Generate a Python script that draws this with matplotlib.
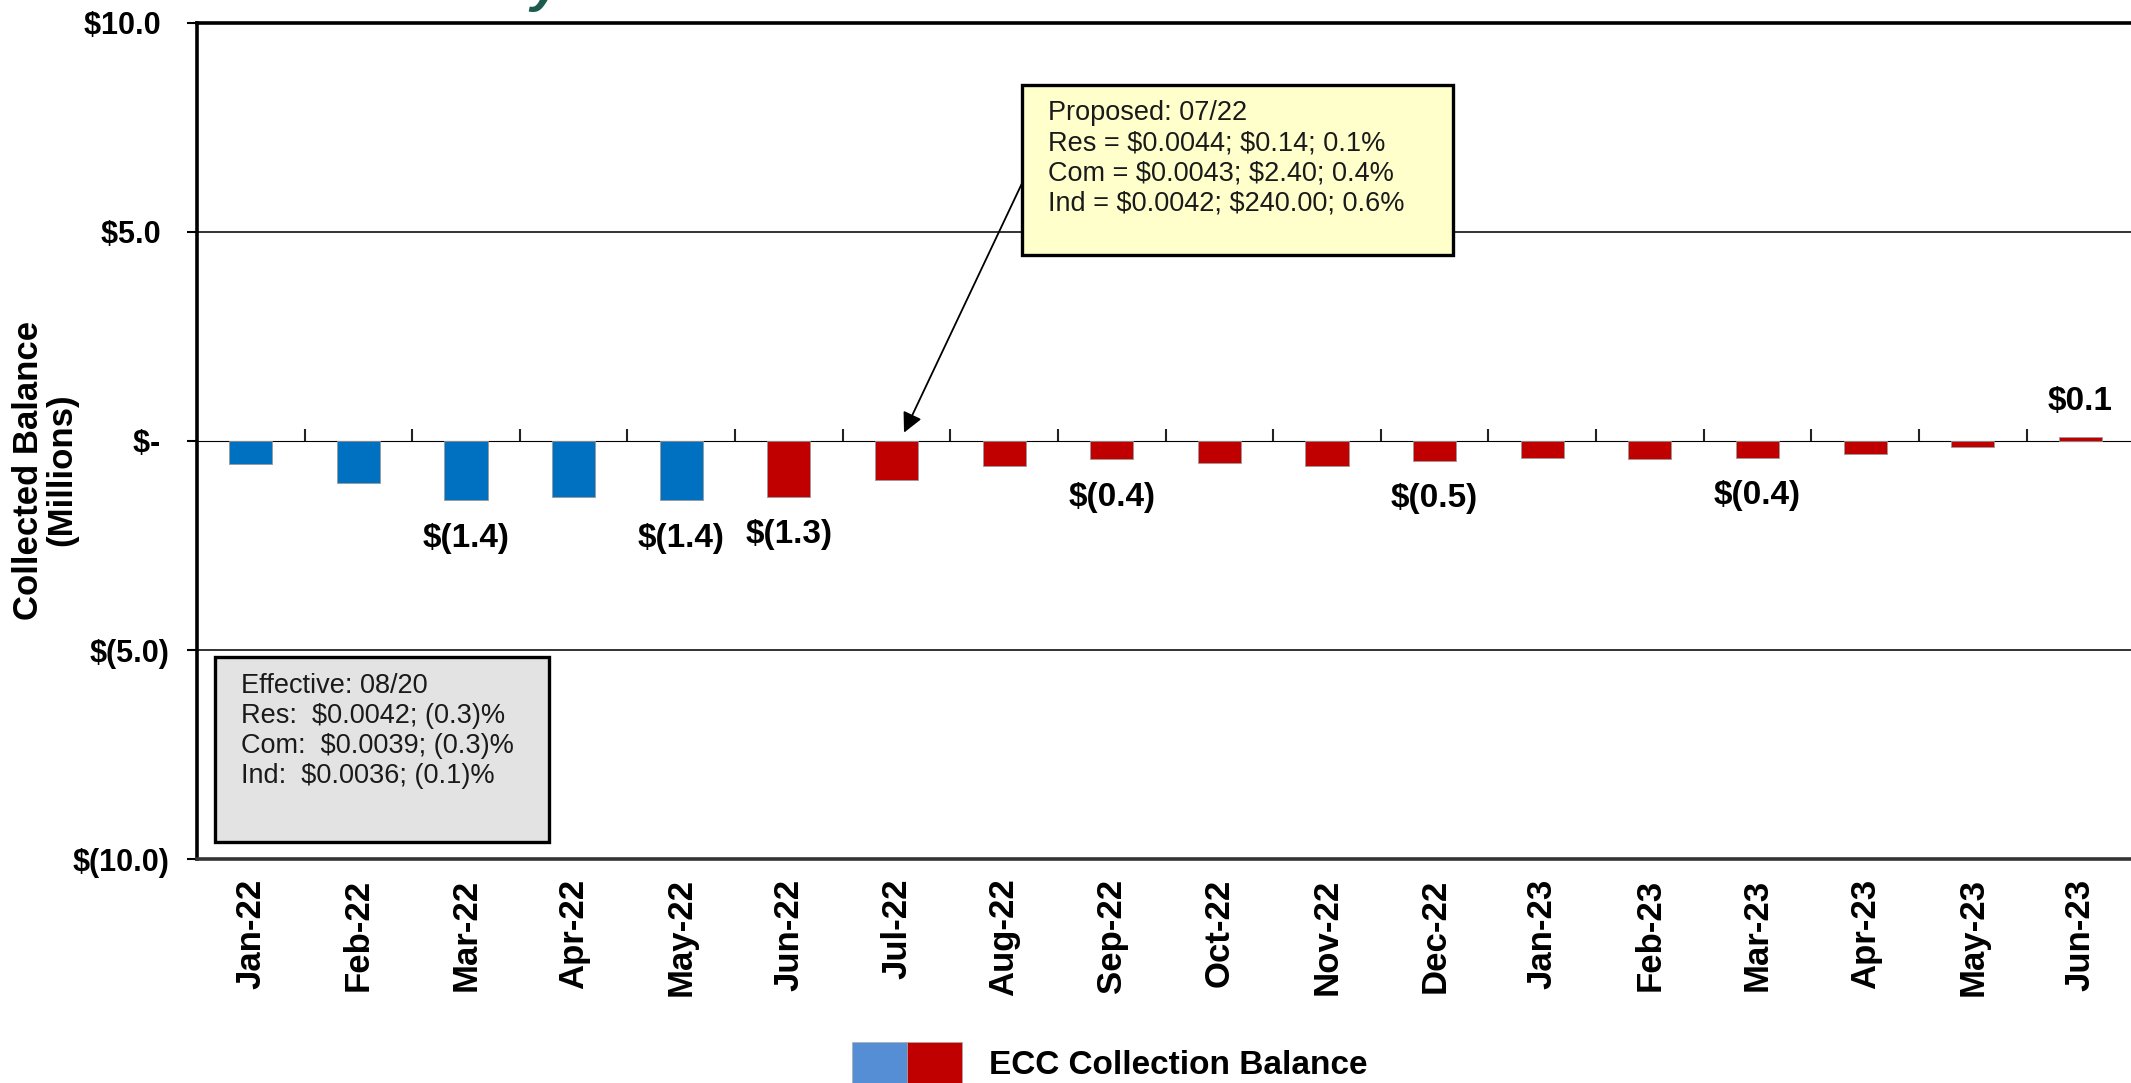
import matplotlib
matplotlib.use("Agg")
import matplotlib.pyplot as plt
import matplotlib.patches as mpatches
from matplotlib.legend_handler import HandlerTuple

plt.rcParams['font.family'] = ['Liberation Sans', 'DejaVu Sans']

# monthly ECC collected balance, $ millions
months = ['Jan-22', 'Feb-22', 'Mar-22', 'Apr-22', 'May-22', 'Jun-22',
          'Jul-22', 'Aug-22', 'Sep-22', 'Oct-22', 'Nov-22', 'Dec-22',
          'Jan-23', 'Feb-23', 'Mar-23', 'Apr-23', 'May-23', 'Jun-23']
balance = [-0.55, -1.0, -1.42, -1.34, -1.42, -1.34,
           -0.93, -0.59, -0.44, -0.52, -0.60, -0.48,
           -0.40, -0.44, -0.40, -0.32, -0.14, 0.10]
n_actual = 5  # Jan-22..May-22 are actuals, rest are projected
labelled = ['Mar-22', 'May-22', 'Jun-22', 'Sep-22', 'Dec-22', 'Mar-23', 'Jun-23']

yticks = [-10, -5, 0, 5, 10]
ytick_labels = ['$(10.0)', '$(5.0)', '$- ', '$5.0 ', '$10.0 ']

effective_text = ("Effective: 08/20\n"
                  "Res:  $0.0042; (0.3)%\n"
                  "Com:  $0.0039; (0.3)%\n"
                  "Ind:  $0.0036; (0.1)%")
proposed_text = ("Proposed: 07/22\n"
                 "Res = $0.0044; $0.14; 0.1%\n"
                 "Com = $0.0043; $2.40; 0.4%\n"
                 "Ind = $0.0042; $240.00; 0.6%")

BLUE = '#0070C0'
RED = '#C00000'
LEG_BLUE = '#558ED5'

fig = plt.figure(figsize=(21.31, 10.83), dpi=100)
ax = fig.add_axes([0.0924, 0.2068, 0.9076, 0.772])

x = list(range(len(months)))
colors = [BLUE if i < n_actual else RED for i in x]
ax.bar(x, balance, width=0.40, color=colors, edgecolor='#9a9a9a', linewidth=0.6, zorder=3)

ax.set_xlim(-0.5, 17.47)
ax.set_ylim(-10, 10)

# gridlines
for yv in (5, -5):
    ax.axhline(yv, color='#333333', lw=1.4, zorder=1)

ax.spines['right'].set_visible(False)
ax.spines['top'].set_linewidth(2.6)
ax.spines['left'].set_linewidth(2.6)
ax.spines['bottom'].set_linewidth(2.6)
ax.spines['bottom'].set_color('#333333')

ax.set_yticks(yticks)
ax.set_yticklabels(ytick_labels, fontsize=22, fontweight='bold')
ax.tick_params(axis='y', direction='out', length=7, width=1.5, pad=13)

ax.set_xticks(x)
ax.set_xticklabels(months, rotation=90, fontsize=25, fontweight='bold')
ax.tick_params(axis='x', length=0, pad=14)

# category axis line at zero with boundary ticks
zero_ax = ax.secondary_xaxis(0.5)
zero_ax.set_xticks([i + 0.5 for i in x[:-1]])
zero_ax.set_xticklabels([])
zero_ax.tick_params(direction='out', length=9, width=1.5, color='#222222')
zero_ax.spines['bottom'].set_linewidth(2.2)
zero_ax.spines['bottom'].set_color('#333333')

# value labels
for i, (m, v) in enumerate(zip(months, balance)):
    if m not in labelled:
        continue
    if v < 0:
        ax.annotate(f'$({abs(v):.1f})', (i, v), xytext=(0, -16), textcoords='offset points',
                    ha='center', va='top', fontsize=24, fontweight='bold', zorder=5)
    else:
        ax.annotate(f'${v:.1f}', (i, v), xytext=(0, 14), textcoords='offset points',
                    ha='center', va='bottom', fontsize=24, fontweight='bold', zorder=5)

fig.text(45 / 2131, 1 - 470 / 1083, 'Collected Balance\n(Millions)', rotation=90,
         ha='center', va='center', multialignment='center', fontsize=25,
         fontweight='bold', linespacing=1.0)

# rate boxes
ax.add_patch(mpatches.Rectangle((-0.33, -9.59), 3.10, 4.43, facecolor='#E3E3E3',
                                edgecolor='black', lw=2.4, zorder=6))
ax.text(-0.09, -5.55, effective_text, ha='left', va='top', fontsize=19.5,
        color='#1a1a1a', linespacing=1.2, zorder=7, parse_math=False)

ax.annotate('', xy=(6.07, 0.2), xytext=(7.2, 6.35),
            arrowprops=dict(arrowstyle='-|>', color='black', lw=1.3,
                            mutation_scale=30, shrinkA=0, shrinkB=0), zorder=4)
ax.add_patch(mpatches.Rectangle((7.17, 4.44), 4.0, 4.07, facecolor='#FFFFCC',
                                edgecolor='black', lw=2.4, zorder=6))
ax.text(7.41, 8.15, proposed_text, ha='left', va='top', fontsize=19.5,
        color='#1a1a1a', linespacing=1.2, zorder=7, parse_math=False)

# legend with split key
h_blue = mpatches.Patch(facecolor=LEG_BLUE, edgecolor='#aaaaaa', lw=0.5)
h_red = mpatches.Patch(facecolor=RED, edgecolor='#aaaaaa', lw=0.5)
fig.legend([(h_blue, h_red)], ['ECC Collection Balance'],
           handler_map={tuple: HandlerTuple(ndivide=None, pad=0)},
           loc='center', bbox_to_anchor=(1110 / 2131, 1 - 1063 / 1083),
           frameon=False, handlelength=3.3, handleheight=1.6, handletextpad=0.8,
           prop={'size': 24, 'weight': 'bold'})

# slide title fragment above the chart
fig.text(530 / 2131, 1.0, 'y', color='#1E5B4F', fontsize=40, fontweight='bold',
         fontstyle='italic', ha='left', va='baseline')

fig.savefig('out.png', dpi=100)
